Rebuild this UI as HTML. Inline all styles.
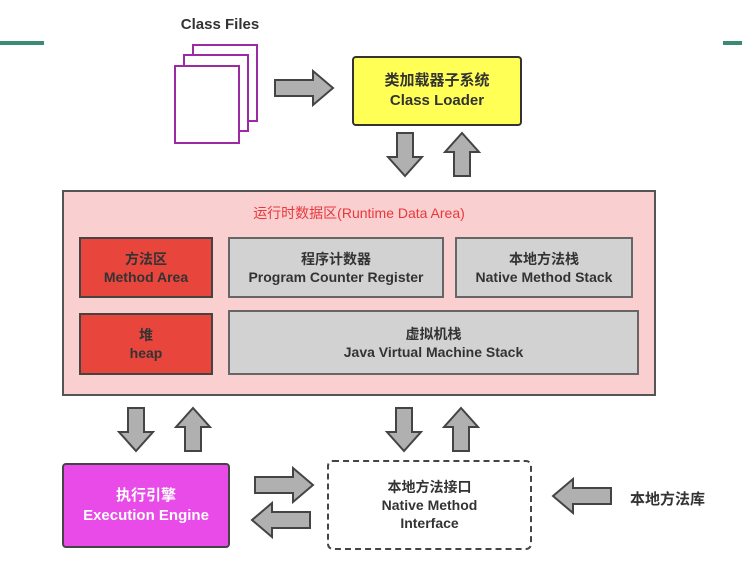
<!DOCTYPE html>
<html><head><meta charset="utf-8"><style>
body{margin:0;width:742px;height:564px;background:#fff;position:relative;overflow:hidden;font-family:"Liberation Sans","Noto Sans CJK SC",sans-serif;}
.b{position:absolute;box-sizing:border-box;display:flex;flex-direction:column;align-items:center;justify-content:center;text-align:center;font-size:14px;font-weight:bold;color:#333;line-height:18px}
</style></head><body>
<div style="position:absolute;left:0;top:41px;width:44px;height:4px;background:#3a8a76"></div>
<div style="position:absolute;left:723px;top:41px;width:19px;height:4px;background:#3a8a76"></div>
<div class="b" style="left:160px;top:14px;width:120px;height:22px;font-size:15px">Class Files</div>
<div style="position:absolute;left:192px;top:44px;width:66px;height:78px;border:2px solid #9b2aa3;background:#fff;box-sizing:border-box"></div>
<div style="position:absolute;left:183px;top:54px;width:66px;height:78px;border:2px solid #9b2aa3;background:#fff;box-sizing:border-box"></div>
<div style="position:absolute;left:174px;top:65px;width:66px;height:79px;border:2px solid #9b2aa3;background:#fff;box-sizing:border-box"></div>
<div class="b" style="left:352px;top:56px;width:170px;height:70px;background:#ffff55;border:2px solid #333;border-radius:4px;font-size:15px;line-height:20px">类加载器子系统<br>Class Loader</div>
<div class="b" style="left:62px;top:190px;width:594px;height:206px;background:#f9cfcf;border:2px solid #555;justify-content:flex-start;padding-top:12px;color:#e8383d;font-weight:normal">运行时数据区(Runtime Data Area)</div>
<div class="b" style="left:79px;top:237px;width:134px;height:61px;background:#e8453c;border:2px solid #444">方法区<br>Method Area</div>
<div class="b" style="left:228px;top:237px;width:216px;height:61px;background:#d2d2d2;border:2px solid #666">程序计数器<br>Program Counter Register</div>
<div class="b" style="left:455px;top:237px;width:178px;height:61px;background:#d2d2d2;border:2px solid #666">本地方法栈<br>Native Method Stack</div>
<div class="b" style="left:79px;top:313px;width:134px;height:62px;background:#e8453c;border:2px solid #444">堆<br>heap</div>
<div class="b" style="left:228px;top:310px;width:411px;height:65px;background:#d2d2d2;border:2px solid #666">虚拟机栈<br>Java Virtual Machine Stack</div>
<div class="b" style="left:62px;top:463px;width:168px;height:85px;background:#e84be8;border:2px solid #444;border-radius:4px;color:#fff;font-size:15px;line-height:20px">执行引擎<br>Execution Engine</div>
<div class="b" style="left:327px;top:460px;width:205px;height:90px;border:2px dashed #444;border-radius:6px">本地方法接口<br>Native Method<br>Interface</div>
<div class="b" style="left:620px;top:488px;width:95px;height:24px;font-size:15px">本地方法库</div>
<svg width="742" height="564" style="position:absolute;left:0;top:0" fill="#b0b0b0" stroke="#444" stroke-width="2">
<defs>
<path id="d" d="M-8,0 H8 V24 H17 L0,43 L-17,24 H-8 Z"/>
<path id="u" d="M-8,43 H8 V19 H17 L0,0 L-17,19 H-8 Z"/>
<path id="r" d="M0,-8 V8 H38 V17 L58,0 L38,-17 V-8 Z"/>
<path id="l" d="M58,-8 V8 H20 V17 L0,0 L20,-17 V-8 Z"/>
</defs>
<use href="#r" x="275" y="88"/>
<use href="#d" x="405" y="133"/><use href="#u" x="462" y="133"/>
<use href="#d" x="136" y="408"/><use href="#u" x="193" y="408"/>
<use href="#d" x="404" y="408"/><use href="#u" x="461" y="408"/>
<use href="#r" x="255" y="485"/>
<use href="#l" x="252" y="520"/>
<use href="#l" x="553" y="496"/>
</svg>
</body></html>
